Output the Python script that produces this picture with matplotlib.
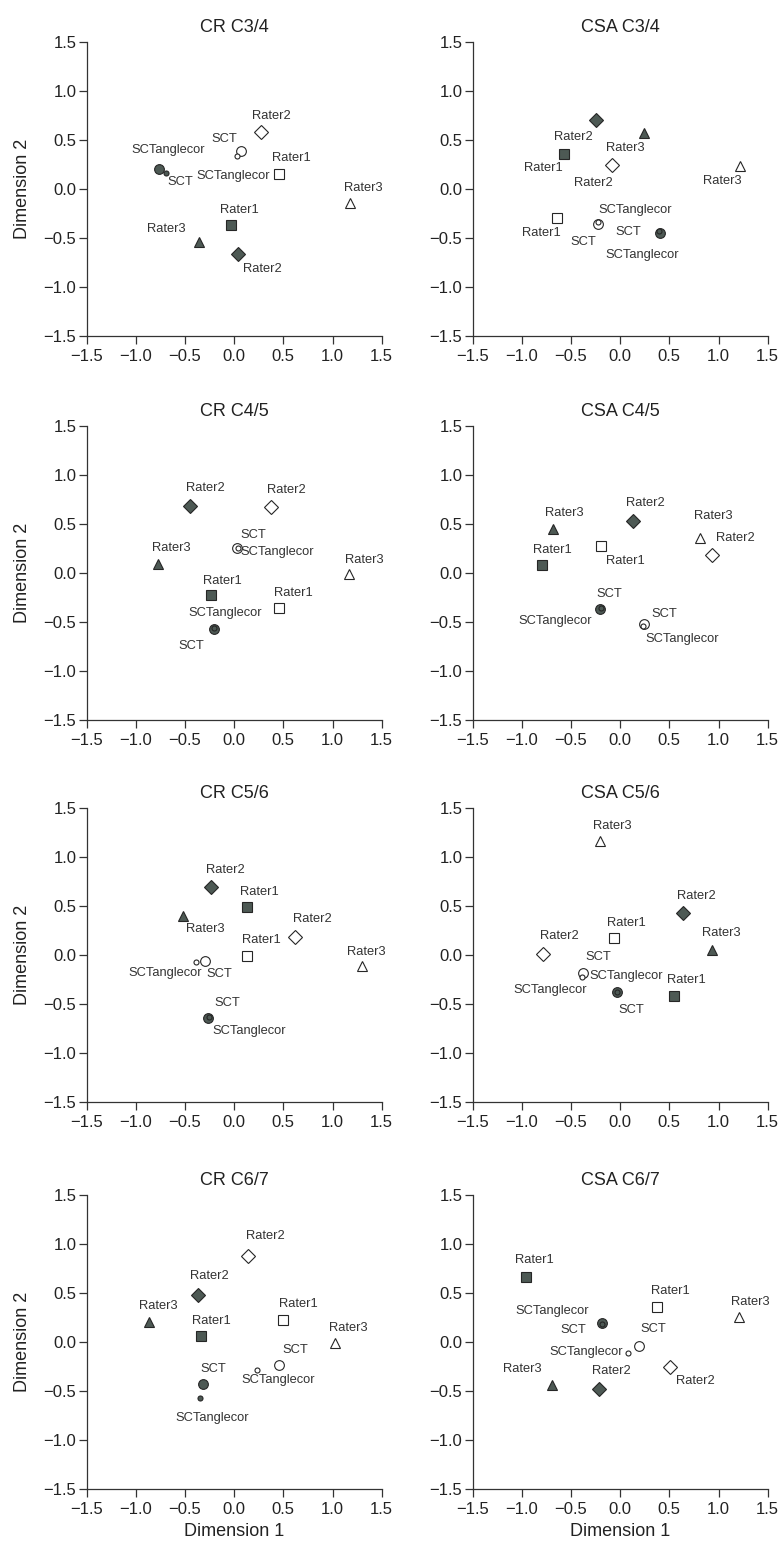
import numpy as np
import matplotlib.pyplot as plt

plt.rcParams['font.family'] = ['Liberation Sans', 'DejaVu Sans']

titles = ['CR C3/4', 'CSA C3/4', 'CR C4/5', 'CSA C4/5',
          'CR C5/6', 'CSA C5/6', 'CR C6/7', 'CSA C6/7']
names = ['Rater1', 'Rater2', 'Rater3', 'SCT', 'SCTanglecor']
ticks = [-1.5, -1.0, -0.5, 0.0, 0.5, 1.0, 1.5]

# dark (filled) configuration, one row per panel, columns follow `names`
dark_x = [
    [-0.03, 0.04, -0.36, -0.76, -0.69],
    [-0.57, -0.25, 0.24, 0.40, 0.39],
    [-0.24, -0.45, -0.77, -0.21, -0.21],
    [-0.80, 0.13, -0.68, -0.21, -0.20],
    [0.13, -0.24, -0.52, -0.27, -0.26],
    [0.55, 0.64, 0.93, -0.03, -0.03],
    [-0.34, -0.37, -0.87, -0.32, -0.35],
    [-0.96, -0.22, -0.69, -0.19, -0.18],
]
dark_y = [
    [-0.37, -0.66, -0.54, 0.20, 0.16],
    [0.36, 0.70, 0.57, -0.45, -0.43],
    [-0.22, 0.68, 0.09, -0.57, -0.56],
    [0.08, 0.53, 0.45, -0.37, -0.36],
    [0.49, 0.69, 0.40, -0.64, -0.63],
    [-0.42, 0.43, 0.05, -0.38, -0.38],
    [0.06, 0.48, 0.20, -0.43, -0.57],
    [0.66, -0.48, -0.44, 0.19, 0.18],
]
# open configuration
open_x = [
    [0.46, 0.27, 1.18, 0.07, 0.03],
    [-0.64, -0.08, 1.22, -0.23, -0.23],
    [0.46, 0.37, 1.17, 0.03, 0.04],
    [-0.20, 0.93, 0.81, 0.24, 0.23],
    [0.13, 0.62, 1.30, -0.30, -0.39],
    [-0.06, -0.79, -0.21, -0.38, -0.39],
    [0.50, 0.14, 1.02, 0.46, 0.23],
    [0.37, 0.51, 1.21, 0.19, 0.08],
]
open_y = [
    [0.15, 0.58, -0.14, 0.39, 0.34],
    [-0.30, 0.25, 0.23, -0.36, -0.34],
    [-0.36, 0.67, -0.01, 0.26, 0.26],
    [0.28, 0.18, 0.36, -0.52, -0.54],
    [-0.01, 0.18, -0.11, -0.06, -0.07],
    [0.17, 0.01, 1.16, -0.18, -0.22],
    [0.22, 0.88, -0.01, -0.23, -0.29],
    [0.36, -0.25, 0.26, -0.04, -0.11],
]

# label offsets in pixels (dx, dy up) relative to each marker
dark_off = [
    [(8, 15), (24, -15), (-32, 13), (21, -13), (2, 23)],
    [(-21, -14), (-22, -17), (-18, -15), (-31, 1), (-16, -24)],
    [(12, 14), (15, 18), (13, 16), (-22, -17), (12, 15)],
    [(11, 15), (12, 18), (11, 16), (10, 15), (-45, -13)],
    [(12, 15), (15, 17), (22, -13), (20, 15), (41, -14)],
    [(12, 16), (13, 17), (10, 17), (14, -18), (9, 16)],
    [(11, 15), (12, 19), (10, 16), (11, 15), (12, -20)],
    [(9, 17), (13, 18), (-30, 16), (-28, -7), (-50, 13)],
]
open_off = [
    [(12, 16), (11, 16), (13, 15), (-17, 12), (-4, -20)],
    [(-16, -15), (-19, -18), (-18, -15), (-14, -18), (38, 12)],
    [(14, 15), (16, 17), (15, 14), (16, 13), (39, -4)],
    [(25, -15), (24, 17), (13, 22), (20, 10), (39, -13)],
    [(14, 16), (17, 18), (4, 14), (15, -13), (-31, -11)],
    [(12, 15), (17, 18), (13, 15), (15, 16), (-32, -13)],
    [(15, 16), (17, 20), (14, 15), (16, 15), (21, -10)],
    [(14, 16), (25, -14), (11, 15), (14, 17), (-42, 1)],
]

markers = ['s', 'D', '^', 'o', 'o']
msizes = [7, 6.8, 7.5, 7, 3.6]
dark_face = '#4d5954'
edge = '#262626'

W, H = 781, 1550
fig = plt.figure(figsize=(W / 100, H / 100), dpi=100)
col_left = [86.7, 472.7]
row_top = [42, 426, 808, 1195]
ax_w, ax_h = 295, 294

for i, title in enumerate(titles):
    r, c = divmod(i, 2)
    ax = fig.add_axes([col_left[c] / W, 1 - (row_top[r] + ax_h) / H, ax_w / W, ax_h / H])
    for xs, ys, offs, face in ((dark_x[i], dark_y[i], dark_off[i], dark_face),
                               (open_x[i], open_y[i], open_off[i], 'white')):
        for k, name in enumerate(names):
            ax.plot(xs[k], ys[k], marker=markers[k], ms=msizes[k], mfc=face,
                    mec=edge, mew=0.8, ls='none', zorder=3 + (k == 4))
            ax.annotate(name, (xs[k], ys[k]), xytext=offs[k], textcoords='offset pixels',
                        ha='center', va='center', fontsize=9.3, color='#333333')
    ax.set_xlim(-1.5, 1.5)
    ax.set_ylim(-1.5, 1.5)
    ax.set_xticks(ticks)
    ax.set_yticks(ticks)
    ax.set_xticklabels([f'{t:.1f}'.replace('-', '\u2212') for t in ticks])
    ax.set_yticklabels([f'{t:.1f}'.replace('-', '\u2212') for t in ticks])
    ax.spines[['top', 'right']].set_visible(False)
    for s in ('left', 'bottom'):
        ax.spines[s].set_color('#333333')
        ax.spines[s].set_linewidth(0.9)
    ax.tick_params(length=5.5, width=0.9, color='#333333', labelsize=12, labelcolor='#222222')
    ax.tick_params(axis='x', pad=4)
    ax.tick_params(axis='y', pad=2)
    ax.set_title(title, fontsize=13, color='#222222', pad=7)
    if c == 0:
        ax.set_ylabel('Dimension 2', fontsize=13, color='#222222', labelpad=9)
    if r == 3:
        ax.set_xlabel('Dimension 1', fontsize=13, color='#222222', labelpad=4)

fig.savefig('out.png', dpi=100)
